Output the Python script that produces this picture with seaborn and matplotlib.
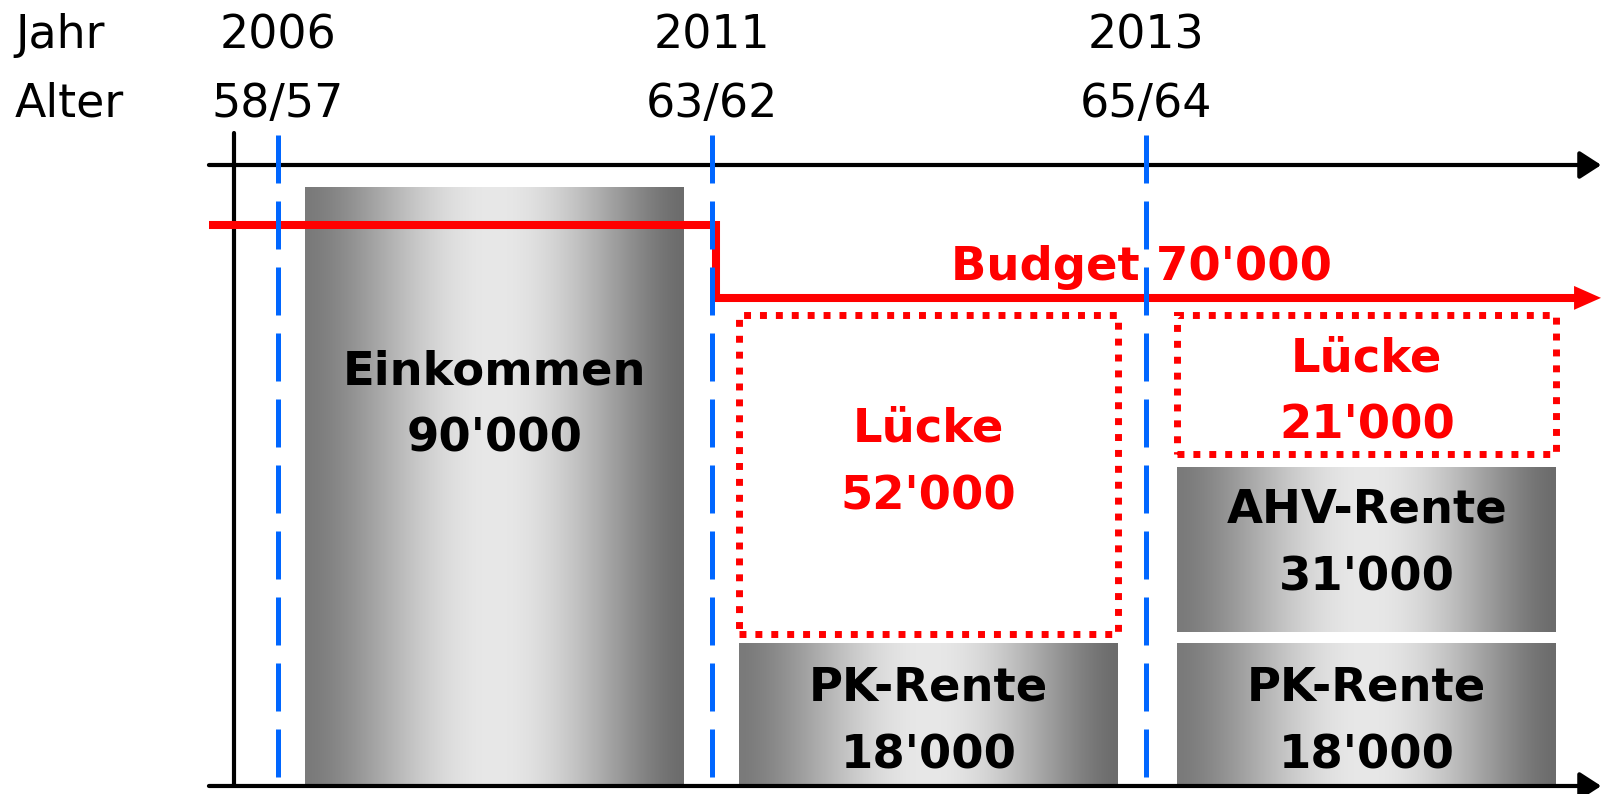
import numpy as np
import seaborn as sns
import matplotlib.pyplot as plt

# ================================
# Data (drawing units: base line = 0, upper time axis = 100)
# ================================
marker_pos = [0, 1, 2]
marker_years = ["2006", "2011", "2013"]
marker_ages = ["58/57", "63/62", "65/64"]

bar_names = ["Einkommen", "PK-Rente", "AHV-Rente", "PK-Rente"]
bar_amounts = ["90'000", "18'000", "31'000", "18'000"]
bar_pos = [0.5, 1.5, 2.51, 2.51]
bar_bottom = [0.0, 0.0, 24.8, 0.0]
bar_top = [96.5, 23.0, 51.4, 23.0]
bar_label_y = [64.7, 13.7, 42.4, 13.7]

gap_name = "Lücke"
gap_amounts = ["52'000", "21'000"]
gap_pos = [1.5, 2.51]
gap_bottom = [24.5, 53.5]
gap_top = [75.8, 75.8]
gap_label_y = [55.4, 66.8]

budget_label = "Budget 70'000"
budget_x = [-0.158, 1.01, 2.99]
budget_y = [90.3, 78.6, 78.6]

# ================================
# Style
# ================================
sns.set_theme(style="white")
plt.rcParams['font.family'] = ['DejaVu Sans']
plt.rcParams['text.color'] = 'black'

BAR_W = 0.873
LINE_GAP = 10.9
RED = "#ff0000"
BLUE = "#0066ff"

fig = plt.figure(figsize=(16.01, 7.94), dpi=100)
ax = fig.add_axes([0, 0, 1, 1])

# grey metallic gradient (dark edges, light centre)
t = np.linspace(0, 1, 256)
edge = 122 * (1 - t) + 108 * t
grey = (edge + (232 - edge) * np.sin(np.pi * t) ** 1.5) / 255
grad = np.dstack([grey, grey, grey])

# ================================
# Income / pension bars
# ================================
for p, b, top in zip(bar_pos, bar_bottom, bar_top):
    sns.barplot(x=[p], y=[top - b], bottom=b, width=BAR_W, native_scale=True,
                errorbar=None, color="#999999", saturation=1, linewidth=0, ax=ax)
    patch = ax.patches[-1]
    x0, y0 = patch.get_x(), patch.get_y()
    im = ax.imshow(grad, extent=(x0, x0 + patch.get_width(), y0, y0 + patch.get_height()),
                   aspect="auto", interpolation="bilinear", zorder=2)
    im.set_clip_path(patch)

# ================================
# Gaps (dotted red boxes)
# ================================
for p, b, top in zip(gap_pos, gap_bottom, gap_top):
    sns.barplot(x=[p], y=[top - b], bottom=b, width=BAR_W, native_scale=True,
                errorbar=None, fill=False, color=RED, saturation=1, linewidth=5,
                linestyle=(0, (1, 1.29)), ax=ax)

# ================================
# Time axes
# ================================
axis_arrow = dict(arrowstyle="-|>,head_length=0.65,head_width=0.42", mutation_scale=20,
                  lw=3, color="black", shrinkA=0, shrinkB=0)
for y in [100, 0]:
    ax.annotate("", xy=(3.05, y), xytext=(-0.158, y), arrowprops=axis_arrow, zorder=4)
ax.plot([-0.1002, -0.1002], [105.2, 0], color="black", lw=3, zorder=4)

# ================================
# Budget line
# ================================
sns.lineplot(x=budget_x, y=budget_y, drawstyle="steps-post", sort=False, color=RED,
             lw=5.8, solid_joinstyle="miter", solid_capstyle="butt", ax=ax, zorder=6)
ax.annotate("", xy=(3.0495, budget_y[-1]), xytext=(2.95, budget_y[-1]),
            arrowprops=dict(arrowstyle="-|>,head_length=0.97,head_width=0.43",
                            mutation_scale=20, lw=0, color=RED, shrinkA=0, shrinkB=0),
            zorder=6)
ax.text(1.99, 81.5, budget_label, color=RED, fontsize=33.5, fontweight="bold",
        ha="center", va="baseline", zorder=10)

# ================================
# Age markers (blue dashed)
# ================================
for p in marker_pos:
    ax.plot([p, p], [104.8, 0], color=BLUE, lw=3.6, linestyle=(0, (9.6, 3.6)), zorder=7)

# ================================
# Labels
# ================================
ax.text(-0.605, 118.8, "Jahr", fontsize=33, ha="left", va="baseline")
ax.text(-0.605, 107.8, "Alter", fontsize=33, ha="left", va="baseline")
for p, yr, age in zip(marker_pos, marker_years, marker_ages):
    ax.text(p, 118.8, yr, fontsize=33, ha="center", va="baseline")
    ax.text(p, 107.8, age, fontsize=33, ha="center", va="baseline")

for p, name, amount, y in zip(bar_pos, bar_names, bar_amounts, bar_label_y):
    ax.text(p, y, name, fontsize=33.5, fontweight="bold", ha="center", va="baseline", zorder=10)
    ax.text(p, y - LINE_GAP, amount, fontsize=33.5, fontweight="bold", ha="center",
            va="baseline", zorder=10)

for p, amount, y in zip(gap_pos, gap_amounts, gap_label_y):
    ax.text(p, y, gap_name, color=RED, fontsize=33.5, fontweight="bold", ha="center",
            va="baseline", zorder=10)
    ax.text(p, y - LINE_GAP, amount, color=RED, fontsize=33.5, fontweight="bold",
            ha="center", va="baseline", zorder=10)

ax.set_xlim(-0.6394, 3.0495)
ax.set_ylim(-1.29, 126.57)
ax.set_axis_off()

fig.savefig("out.png", dpi=100)
